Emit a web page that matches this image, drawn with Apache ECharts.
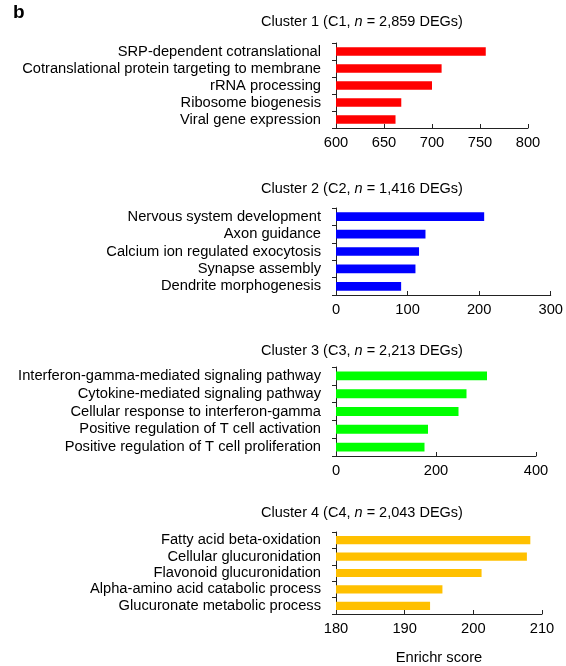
<!DOCTYPE html>
<html>
<head>
<meta charset="utf-8">
<script src="https://cdn.jsdelivr.net/npm/echarts@6/dist/echarts.min.js"></script>
<style>
  html, body { margin: 0; padding: 0; background: #fff; }
  #chart { width: 566px; height: 666px; }
</style>
</head>
<body>
<div id="chart"></div>
<script>
// cluster titles: [label, DEG count]
const clusterNames = ["Cluster 1 (C1, ", "Cluster 2 (C2, ", "Cluster 3 (C3, ", "Cluster 4 (C4, "];
const clusterDegs = ["2,859", "1,416", "2,213", "2,043"];

const cats1 = ["SRP-dependent cotranslational", "Cotranslational protein targeting to membrane", "rRNA processing", "Ribosome biogenesis", "Viral gene expression"];
const vals1 = [756, 710, 700, 668, 662];

const cats2 = ["Nervous system development", "Axon guidance", "Calcium ion regulated exocytosis", "Synapse assembly", "Dendrite morphogenesis"];
const vals2 = [207, 125, 116, 111, 91];

const cats3 = ["Interferon-gamma-mediated signaling pathway", "Cytokine-mediated signaling pathway", "Cellular response to interferon-gamma", "Positive regulation of T cell activation", "Positive regulation of T cell proliferation"];
const vals3 = [302, 261, 245, 184, 177];

const cats4 = ["Fatty acid beta-oxidation", "Cellular glucuronidation", "Flavonoid glucuronidation", "Alpha-amino acid catabolic process", "Glucuronate metabolic process"];
const vals4 = [208.3, 207.8, 201.2, 195.5, 193.7];

// x axis ranges [min, max, interval]
const xRanges = [[600, 800, 50], [0, 300, 100], [0, 400, 200], [180, 210, 10]];
const barColors = ["#ff0000", "#0000ff", "#00ff00", "#ffc000"];

const allCats = [cats1, cats2, cats3, cats4];
const allVals = [vals1, vals2, vals3, vals4];

const font = "Liberation Sans, Arial, Helvetica, sans-serif";
const fs = 14.7;
const axisColor = "#222";

// layout of the four panels
const grids = [
  { left: 336, right: 38, top: 43, height: 85 },
  { left: 336, right: 14, top: 208, height: 87 },
  { left: 336, right: 30, top: 367, height: 89 },
  { left: 336, right: 24, top: 532, height: 84 }
];
const titleTops = [14, 181, 343, 505];

const myChart = echarts.init(document.getElementById("chart"));

const titles = clusterNames.map((nm, i) => ({
  text: "{a|" + nm + "}{i|n}{a| = " + clusterDegs[i] + " DEGs)}",
  left: 362,
  top: titleTops[i],
  textAlign: "center",
  padding: 0,
  textStyle: {
    fontWeight: "normal",
    rich: {
      a: { fontFamily: font, fontSize: 14.5, color: "#000", fontWeight: "normal" },
      i: { fontFamily: font, fontSize: 14.5, color: "#000", fontWeight: "normal", fontStyle: "italic" }
    }
  }
}));
titles.push({
  text: "b",
  left: 13,
  top: 3,
  padding: 0,
  textStyle: { fontFamily: font, fontSize: 19, fontWeight: "bold", color: "#000" }
});

const xAxes = xRanges.map((r, i) => ({
  type: "value",
  gridIndex: i,
  min: r[0],
  max: r[1],
  interval: r[2],
  splitLine: { show: false },
  axisLine: { show: true, lineStyle: { color: axisColor, width: 1 } },
  axisTick: { show: true, inside: true, length: 4, lineStyle: { color: axisColor } },
  axisLabel: { fontFamily: font, fontSize: fs, color: "#000", margin: 7 },
  name: i === 3 ? "Enrichr score" : "",
  nameLocation: "middle",
  nameGap: 36,
  nameTextStyle: { fontFamily: font, fontSize: fs, color: "#000" }
}));

const yAxes = allCats.map((c, i) => ({
  type: "category",
  gridIndex: i,
  data: c,
  inverse: true,
  axisLine: { show: true, lineStyle: { color: axisColor, width: 1 } },
  axisTick: { show: true, interval: 0, length: 4, lineStyle: { color: axisColor } },
  axisLabel: { interval: 0, fontFamily: font, fontSize: fs, color: "#000", margin: 15 }
}));

const series = allVals.map((v, i) => ({
  type: "bar",
  xAxisIndex: i,
  yAxisIndex: i,
  data: v,
  barWidth: "50%",
  itemStyle: { color: barColors[i] },
  silent: true
}));

const option = {
  animation: false,
  backgroundColor: "#fff",
  title: titles,
  grid: grids,
  xAxis: xAxes,
  yAxis: yAxes,
  series: series
};
myChart.setOption(option);
</script>
</body>
</html>
